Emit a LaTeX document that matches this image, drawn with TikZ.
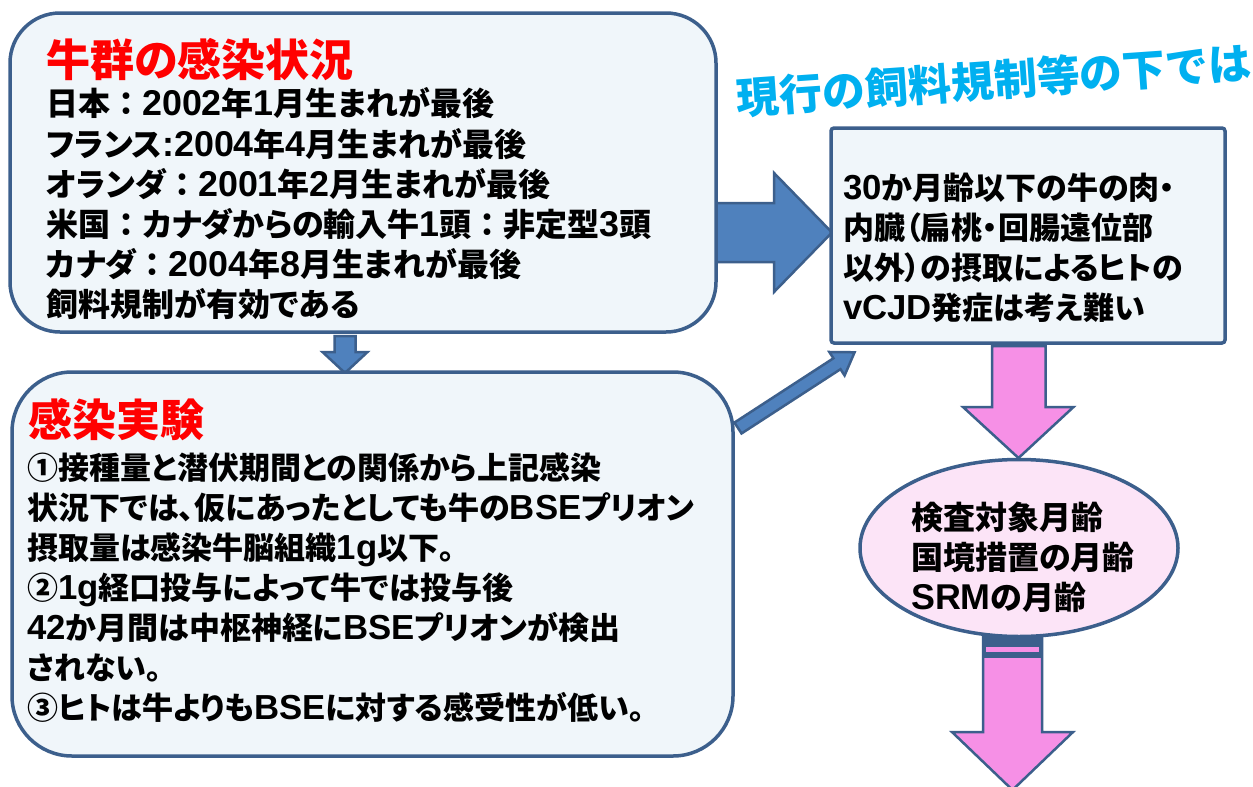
\documentclass[tikz,border=0pt]{standalone}
\usepackage{fontspec}
\setmainfont{Noto Sans CJK JP}[RawFeature=+palt]
\newfontfamily\cjkfull{Noto Sans CJK JP}
\newfontfamily\latf{Liberation Sans}[Scale=1.12, UprightFont={* Bold}, BoldFont={* Bold}]
\newcommand\lt[1]{{\latf #1}}
\newcommand\fc{{\cjkfull ：}}
\usetikzlibrary{shapes.geometric}
\definecolor{bord}{RGB}{60,95,140}
\definecolor{boxfill}{RGB}{240,246,250}
\definecolor{arrblue}{RGB}{79,129,189}
\definecolor{pinkarr}{RGB}{246,144,230}
\definecolor{pinkfill}{RGB}{252,228,247}
\definecolor{titlered}{RGB}{255,0,0}
\definecolor{cyantitle}{RGB}{0,176,240}
\tikzset{
  roundbox/.style={draw=bord, line width=3.5pt, fill=boxfill, rectangle, inner sep=0pt},
  blockarrow/.style={draw=bord, line width=2.5pt, fill=arrblue, line join=miter},
  pinkarrow/.style={draw=bord, line width=2.5pt, fill=pinkarr, line join=miter},
  bodytext/.style={inner sep=0pt, align=left, text=black, font=\fontsize{31}{40}\selectfont\bfseries},
  redtitle/.style={inner sep=0pt, text=titlered, font=\fontsize{44}{50}\selectfont\bfseries}
}
\begin{document}
\begin{tikzpicture}[x=1pt,y=-1pt]
\clip (0,0) rectangle (1253,787);
\fill[white] (0,0) rectangle (1253,787);

% block arrows drawn first (under boxes)
\coordinate (rA) at (712,232.5);
\draw[blockarrow] (rA) ++(0,-29.5) -- ++(62,0) -- ++(0,-30) -- ++(58,59.5) -- ++(-58,59.5) -- ++(0,-30) -- ++(-62,0) -- cycle;

\coordinate (dA) at (344.5,336);
\draw[blockarrow] (dA) ++(-10,0) -- ++(0,16) -- ++(-12,0) -- ++(22.5,21) -- ++(22.5,-21) -- ++(-12,0) -- ++(0,-16) -- cycle;

\begin{scope}[shift={(738,428)}, rotate=33]
  \coordinate (gA) at (0,0);
  \draw[blockarrow] (gA) ++(0,-6.5) -- ++(118,0) -- ++(0,-7.5) -- ++(21,14) -- ++(-21,14) -- ++(0,-7.5) -- ++(-118,0) -- cycle;
\end{scope}

\coordinate (pA) at (1018.5,346);
\draw[pinkarrow] (pA) ++(-26.5,0) -- ++(0,61) -- ++(-29,0) -- ++(55.5,51) -- ++(55,-51) -- ++(-28,0) -- ++(0,-61) -- cycle;

\coordinate (pB) at (1012.5,636);
\draw[pinkarrow] (pB) ++(-29.5,0) -- ++(0,96) -- ++(-31,0) -- ++(60.5,58) -- ++(60.5,-58) -- ++(-31,0) -- ++(0,-96) -- cycle;
\fill[bord] (983,636) rectangle (1042,658);
\fill[pinkarr] (986,647) rectangle (1039,652);

% boxes
\node[roundbox, rounded corners=50pt, minimum width=706pt, minimum height=319pt] (b1) at (363,172.5) {};
\node[roundbox, rounded corners=60pt, minimum width=721pt, minimum height=384pt] (b2) at (372.5,564) {};
\node[roundbox, rounded corners=3pt, minimum width=394pt, minimum height=215pt] (b3) at (1028,235.5) {};
\node[ellipse, draw=bord, line width=3.5pt, fill=pinkfill, minimum width=318pt, minimum height=177pt, inner sep=0pt] (el) at (1019,548) {};

% texts
\node[redtitle, anchor=west] (t1) at (46,60) {牛群の感染状況};
\node[bodytext, anchor=west, font=\fontsize{32}{40.2}\selectfont\bfseries] (x1) at (46,204) {日本\fc\lt{2002}年\lt{1}月生まれが最後\\
フランス\lt{:}\lt{2004}年\lt{4}月生まれが最後\\
オランダ\fc\lt{2001}年\lt{2}月生まれが最後\\
米国\fc カナダからの輸入牛\lt{1}頭\fc 非定型\lt{3}頭\\
カナダ\fc\lt{2004}年\lt{8}月生まれが最後\\
飼料規制が有効である};

\node[redtitle, anchor=west] (t2) at (28,420) {感染実験};
\node[bodytext, anchor=west] (x2) at (27,587.5) {①接種量と潜伏期間との関係から上記感染\\
状況下では、仮にあったとしても牛の\lt{BSE}プリオン\\
摂取量は感染牛脳組織\lt{1g}以下。\\
②\lt{1g}経口投与によって牛では投与後\\
\lt{42}か月間は中枢神経に\lt{BSE}プリオンが検出\\
されない。\\
③ヒトは牛よりも\lt{BSE}に対する感受性が低い。};

\node[bodytext, anchor=west] (x3) at (843,248) {\lt{30}か月齢以下の牛の肉・\\
内臓（扁桃・回腸遠位部\\
以外）の摂取によるヒトの\\
\lt{vCJD}発症は考え難い};

\node[bodytext, anchor=west, font=\fontsize{32}{40}\selectfont\bfseries] (x4) at (911,557) {検査対象月齢\\
国境措置の月齢\\
\lt{SRM}の月齢};

\node[inner sep=0pt, rotate=4, text=cyantitle, font=\fontsize{43}{48}\selectfont\bfseries\cjkfull] (ct) at (994,80) {現行の飼料規制等の下では};
\end{tikzpicture}
\end{document}
